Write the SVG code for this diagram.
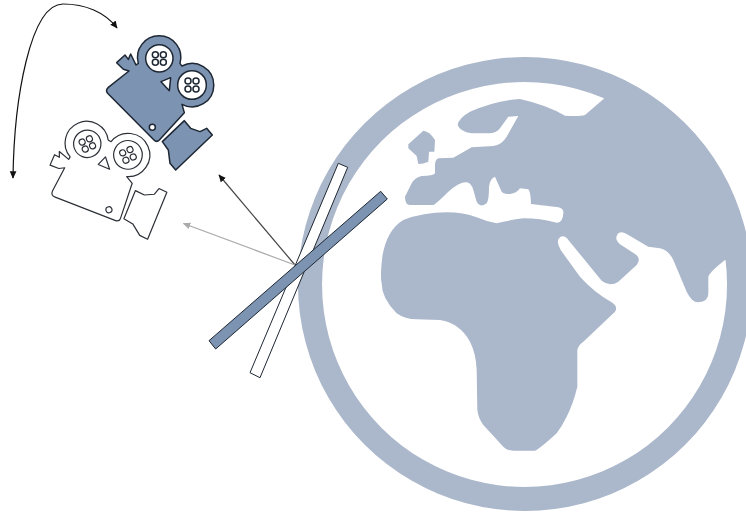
<svg xmlns="http://www.w3.org/2000/svg" width="746" height="512" viewBox="0 0 746 512">
<style>
.land{fill:#abb7ca}
.cam-blue{fill:#7c93b2;stroke:#1d2733;stroke-width:4.5;stroke-linejoin:round}
.cam-white{fill:#fff;stroke:#2b2f36;stroke-width:3.6;stroke-linejoin:round}
.w{fill:#fff}
.bar{stroke:#1d2733;stroke-width:1;stroke-linejoin:miter}
.c{fill:none;stroke-width:1.2}
</style>
<defs>
<marker id="ab" viewBox="0 0 10 10" refX="9" refY="5" markerWidth="7.500" markerHeight="7.500" markerUnits="userSpaceOnUse" orient="auto-start-reverse"><path d="M0,0.5L10,5L0,9.5Z" fill="#111"/></marker>
<marker id="ag" viewBox="0 0 10 10" refX="9" refY="5" markerWidth="7.500" markerHeight="7.500" markerUnits="userSpaceOnUse" orient="auto"><path d="M0,0.5L10,5L0,9.5Z" fill="#aaa"/></marker>
<g id="camera">
<path d="M350,188L375,165L385,178L392,162L408,195L415,190A65,65 0 1 1 540,190Q543,195 546,198A65,65 0 1 1 546,313L553,338L478,420Q470,428 462,420L325,282Q314,272 325,262L387,213L370,208Z"/>
<path d="M487,425L553,362L572,385L600,395L620,385L637,405L527,510L510,490L505,450Z"/>
<g class="w">
<circle cx="478" cy="175" r="41"/><circle cx="576" cy="255" r="43"/>
<path d="M483,245L512,233L508,272Z"/><circle cx="457" cy="382" r="9"/>
<circle cx="466" cy="164" r="9"/><circle cx="490" cy="164" r="9"/><circle cx="466" cy="187" r="9"/><circle cx="490" cy="187" r="9"/>
<circle cx="564" cy="243" r="9"/><circle cx="588" cy="243" r="9"/><circle cx="564" cy="267" r="9"/><circle cx="588" cy="267" r="9"/>
</g>
</g>
</defs>
<g id="globe">
<path class="land" fill-rule="evenodd" d="M525,57A227,227 0 1 1 524.9,57ZM524.5,82A202.500,202.500 0 1 0 524.6,82Z"/>
<g transform="translate(290,50) scale(0.33333)">
<path class="land" d="M945,143L885,195Q870,200 825,197Q770,165 690,147Q620,150 540,185Q505,205 503,225Q510,245 545,250L600,250Q620,248 630,235L655,200L685,198L650,260Q635,285 610,288L545,292L490,323L445,325Q435,330 435,345L435,370Q430,378 395,378Q375,382 365,400L345,440Q345,465 360,465L430,465Q440,460 475,425Q510,395 530,397Q545,400 550,420L560,455Q572,475 590,460Q597,450 597,410Q600,385 615,380L635,425Q640,432 660,432Q680,430 690,415L715,418Q722,425 723,462L805,472Q822,475 820,490Q818,520 800,518Q750,505 700,505Q660,510 620,520Q590,515 560,502Q520,487 470,487Q400,487 340,510Q290,540 277,620Q270,680 275,700Q275,745 320,790Q345,808 380,808L450,810Q510,820 540,875Q558,910 560,960L562,1080Q565,1105 580,1125L640,1190Q650,1202 670,1202L735,1202Q745,1200 800,1150Q815,1130 830,1100Q850,1060 862,1010L862,900Q865,885 880,875L975,785Q985,770 965,757Q910,725 870,680L812,600Q795,570 812,560Q825,555 835,570L880,625L935,692Q960,712 985,695L1040,645Q1055,625 1035,612L990,583Q970,565 985,550Q995,543 1010,552L1075,590L1110,595Q1135,600 1150,630L1190,725Q1205,757 1225,757Q1255,755 1255,730L1255,680Q1260,665 1305,630L1344,630L1245,345L1050,150L960,105Z"/>
<path class="land" d="M400,242Q420,245 435,270L433,305L417,305L415,335Q400,342 385,342L380,318L355,295L355,283Z"/>
</g>
</g>
<g id="mirror-white"><path class="bar" fill="#fff" d="M338.300,163.300L347.700,167.300L260,377.700L250,372.700Z"/></g>
<g id="connectors">
<path class="c" stroke="#444" d="M295,265L219,175" marker-end="url(#ab)"/>
<path class="c" stroke="#aaa" d="M295,265L183.500,223.500" marker-end="url(#ag)"/>
<path class="c" stroke="#111" d="M13,178C14,100 30,4 63,4C85,4 105,12 117,28" marker-start="url(#ab)" marker-end="url(#ab)"/>
</g>
<g id="mirror-blue"><path class="bar" fill="#7c93b2" d="M380.700,191.300L387.300,199L215.700,349L209,340.700Z"/></g>
<g id="camera-blue" class="cam-blue" transform="scale(0.33333)"><use href="#camera"/></g>
<g id="camera-white" class="cam-white" transform="scale(0.33333) matrix(.9135,-.4067,.4067,.9135,-246,466)"><use href="#camera"/></g>
</svg>
